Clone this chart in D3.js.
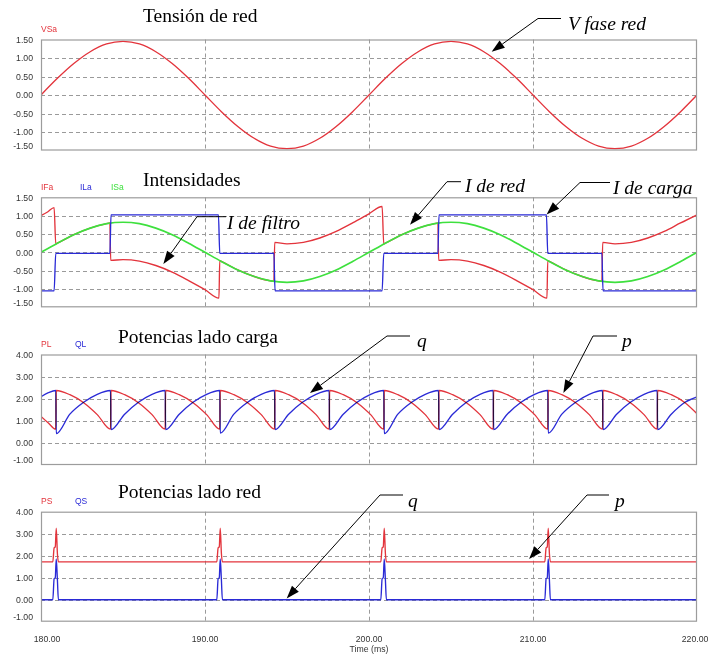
<!DOCTYPE html>
<html>
<head>
<meta charset="utf-8">
<script src="https://cdn.jsdelivr.net/npm/d3@7"></script>
<style>
  html, body { margin: 0; padding: 0; background: #fff; }
  svg { display: block; }
</style>
</head>
<body>
<svg id="chart" width="710" height="654"></svg>
<script>
// ---------- time axis ----------
const timeTicks = [180, 190, 200, 210, 220];
const timeTickLabels = ["180.00", "190.00", "200.00", "210.00", "220.00"];
const timeGrid = [190, 200, 210];

// ---------- panel 1: grid phase voltage (pu) ----------
const vsaT = [180,181,182,183,184,185,186,187,188,189,190,191,192,193,194,195,196,197,198,199,
              200,201,202,203,204,205,206,207,208,209,210,211,212,213,214,215,216,217,218,219,220];
const vsaV = [0,0.45,0.85,1.17,1.38,1.45,1.38,1.17,0.85,0.45,0,-0.45,-0.85,-1.17,-1.38,-1.45,-1.38,-1.17,-0.85,-0.45,
              0,0.45,0.85,1.17,1.38,1.45,1.38,1.17,0.85,0.45,0,-0.45,-0.85,-1.17,-1.38,-1.45,-1.38,-1.17,-0.85,-0.45,0];
const yTicksV = [1.5, 1, 0.5, 0, -0.5, -1, -1.5];
const yLabelsV = ["1.50", "1.00", "0.50", "0.00", "-0.50", "-1.00", "-1.50"];

// ---------- panel 2: currents (pu) ----------
// source current ISa
const isaT = vsaT;
const isaV = [0,0.25,0.48,0.66,0.78,0.82,0.78,0.66,0.48,0.25,0,-0.25,-0.48,-0.66,-0.78,-0.82,-0.78,-0.66,-0.48,-0.25,
              0,0.25,0.48,0.66,0.78,0.82,0.78,0.66,0.48,0.25,0,-0.25,-0.48,-0.66,-0.78,-0.82,-0.78,-0.66,-0.48,-0.25,0];
// load current ILa
const ilaT = [180,180.8,180.9,184.2,184.27,190.82,190.9,194.2,194.27,200.8,200.9,204.2,204.27,210.82,210.9,214.2,214.27,220];
const ilaV = [-1.05,-1.05,-0.03,-0.03,1.02,1.02,-0.03,-0.03,-1.05,-1.05,-0.03,-0.03,1.02,1.02,-0.03,-0.03,-1.05,-1.05];
// filter current IFa
const ifaT = [180,180.4,180.8,180.9,181,182,183,184,184.2,
              184.25,185,186,187,188,189,190,190.85,
              190.9,191,192,193,194,194.2,
              194.25,195,196,197,198,199,200,200.8,
              200.9,201,202,203,204,204.2,
              204.25,205,206,207,208,209,210,210.85,
              210.9,211,212,213,214,214.2,
              214.25,215,216,217,218,219,220];
const ifaV = [1.0,1.1,1.22,0.23,0.25,0.48,0.66,0.78,0.8,
              -0.22,-0.2,-0.24,-0.36,-0.54,-0.77,-1.02,-1.25,
              -0.23,-0.25,-0.48,-0.66,-0.78,-0.79,
              0.27,0.23,0.27,0.39,0.57,0.8,1.05,1.25,
              0.23,0.25,0.48,0.66,0.78,0.8,
              -0.22,-0.2,-0.24,-0.36,-0.54,-0.77,-1.02,-1.25,
              -0.23,-0.25,-0.48,-0.66,-0.78,-0.79,
              0.27,0.23,0.27,0.39,0.57,0.8,1.02];

// ---------- panel 3: load-side powers (pu) ----------
const loadT = [180,180.45,180.9,
  180.93,181.76,182.6,183.43,184.24,
  184.27,185.1,185.94,186.77,187.57,
  187.6,188.43,189.27,190.1,190.9,
  190.93,191.76,192.6,193.43,194.24,
  194.27,195.1,195.94,196.77,197.57,
  197.6,198.43,199.27,200.1,200.9,
  200.93,201.76,202.6,203.43,204.24,
  204.27,205.1,205.94,206.77,207.57,
  207.6,208.43,209.27,210.1,210.9,
  210.93,211.76,212.6,213.43,214.24,
  214.27,215.1,215.94,216.77,217.57,
  217.6,218.43,219.27,220];
const pLV = [1.2,0.9,0.62,
  2.37,2.18,1.82,1.28,0.62,
  2.37,2.18,1.82,1.28,0.62,
  2.37,2.18,1.82,1.28,0.62,
  2.37,2.18,1.82,1.28,0.62,
  2.37,2.18,1.82,1.28,0.62,
  2.37,2.18,1.82,1.28,0.62,
  2.37,2.18,1.82,1.28,0.62,
  2.37,2.18,1.82,1.28,0.62,
  2.37,2.18,1.82,1.28,0.62,
  2.37,2.18,1.82,1.28,0.62,
  2.37,2.18,1.82,1.28,0.62,
  2.37,2.18,1.82,1.32];
const qLV = [2.09,2.27,2.37,
  0.42,1.3,1.84,2.2,2.37,
  0.6,1.3,1.84,2.2,2.37,
  0.6,1.3,1.84,2.2,2.37,
  0.44,1.3,1.84,2.2,2.37,
  0.6,1.3,1.84,2.2,2.37,
  0.6,1.3,1.84,2.2,2.37,
  0.42,1.3,1.84,2.2,2.37,
  0.6,1.3,1.84,2.2,2.37,
  0.6,1.3,1.84,2.2,2.37,
  0.44,1.3,1.84,2.2,2.37,
  0.6,1.3,1.84,2.2,2.37,
  0.6,1.3,1.84,2.08];
const yTicksP = [4, 3, 2, 1, 0, -1];
const yLabelsP = ["4.00", "3.00", "2.00", "1.00", "0.00", "-1.00"];

// ---------- panel 4: grid-side powers (pu) ----------
const srcT = [180,
  180.72,180.8,180.87,180.93,181.0,181.06,
  190.72,190.8,190.87,190.93,191.0,191.06,
  200.72,200.8,200.87,200.93,201.0,201.06,
  210.72,210.8,210.87,210.93,211.0,211.06,
  220];
const pSV = [1.72,
  1.72,2.35,2.4,3.25,2.1,1.72,
  1.72,2.35,2.4,3.25,2.1,1.72,
  1.72,2.35,2.4,3.25,2.1,1.72,
  1.72,2.35,2.4,3.25,2.1,1.72,
  1.72];
const qSV = [0,
  0,0.95,1.0,1.85,0.9,0,
  0,0.95,1.0,1.85,0.9,0,
  0,0.95,1.0,1.85,0.9,0,
  0,0.95,1.0,1.85,0.9,0,
  0];

// ---------- styling ----------
const RED = "#e3343c";
const BLUE = "#2a2ad6";
const GREEN = "#3ee03e";
const GRID = "#9a9a9a";
const FRAME = "#9c9c9c";
const SERIF = "'Liberation Serif', 'Times New Roman', serif";
const SANS = "'Liberation Sans', Arial, sans-serif";

const svg = d3.select("#chart");
const x = d3.scaleLinear().domain([180, 220]).range([41, 697]);

const zip = (t, v) => t.map((ti, i) => [ti, v[i]]);

const panels = [
  {
    domain: [-1.5, 1.5], range: [150.5, 39.5],
    ticks: yTicksV, labels: yLabelsV, grid: [1, 0.5, 0, -0.5, -1],
    title: "Tensión de red", titleX: 143, titleY: 22,
    legendY: 31.5, legend: [{ text: "VSa", color: RED, x: 41 }],
    blend: "normal",
    series: [{ t: vsaT, v: vsaV, color: RED, w: 1.35 }],
    notes: [
      { text: "V fase red", tip: [207.48, 1.17], elbow: [538, 18.5], end: [561, 18.5], label: [568, 30] }
    ]
  },
  {
    domain: [-1.5, 1.5], range: [307.3, 197.3],
    ticks: yTicksV, labels: yLabelsV, grid: [1, 0.5, 0, -0.5, -1],
    title: "Intensidades", titleX: 143, titleY: 186,
    legendY: 190, legend: [{ text: "IFa", color: RED, x: 41 }, { text: "ILa", color: BLUE, x: 80 }, { text: "ISa", color: GREEN, x: 111 }],
    blend: "normal",
    series: [
      { t: ifaT, v: ifaV, color: RED, w: 1.35 },
      { t: isaT, v: isaV, color: GREEN, w: 1.7 },
      { t: ilaT, v: ilaV, color: BLUE, w: 1.35 }
    ],
    notes: [
      { text: "I de filtro", tip: [187.46, -0.32], elbow: [197, 216.7], end: [226, 216.7], label: [227, 229] },
      { text: "I de red", tip: [202.5, 0.75], elbow: [447, 181.7], end: [461, 181.7], label: [465, 192] },
      { text: "I de carga", tip: [210.83, 1.03], elbow: [580, 182.5], end: [610, 182.5], label: [613, 193.5] }
    ]
  },
  {
    domain: [-1, 4], range: [465, 354.5],
    ticks: yTicksP, labels: yLabelsP, grid: [3, 2, 1, 0],
    title: "Potencias lado carga", titleX: 118, titleY: 343,
    legendY: 347, legend: [{ text: "PL", color: RED, x: 41 }, { text: "QL", color: BLUE, x: 75 }],
    blend: "multiply",
    series: [
      { t: loadT, v: pLV, color: RED, w: 1.35 },
      { t: loadT, v: qLV, color: BLUE, w: 1.35 }
    ],
    notes: [
      { text: "q", tip: [196.4, 2.26], elbow: [387, 336], end: [410, 336], label: [417, 347] },
      { text: "p", tip: [211.85, 2.26], elbow: [593, 336], end: [617, 336], label: [622, 347] }
    ]
  },
  {
    domain: [-1, 4], range: [621.7, 511.7],
    ticks: yTicksP, labels: yLabelsP, grid: [3, 2, 1, 0],
    title: "Potencias lado red", titleX: 118, titleY: 497.5,
    legendY: 503.5, legend: [{ text: "PS", color: RED, x: 41 }, { text: "QS", color: BLUE, x: 75 }],
    blend: "multiply",
    series: [
      { t: srcT, v: pSV, color: RED, w: 1.35 },
      { t: srcT, v: qSV, color: BLUE, w: 1.35 }
    ],
    notes: [
      { text: "q", tip: [194.98, 0.06], elbow: [380, 495], end: [403, 495], label: [408, 506.5] },
      { text: "p", tip: [209.76, 1.85], elbow: [587, 495], end: [609, 495], label: [615, 506.5] }
    ],
    timeAxis: true
  }
];

panels.forEach((p, pi) => {
  const y = d3.scaleLinear().domain(p.domain).range(p.range);
  const x0 = x(180), x1 = x(220);
  const top = y(p.domain[1]), bottom = y(p.domain[0]);
  const g = svg.append("g").attr("class", "panel");

  // plot area
  g.append("rect")
    .attr("x", x0).attr("y", top)
    .attr("width", x1 - x0).attr("height", bottom - top)
    .attr("fill", "#fff");

  // dashed grid
  g.append("g").selectAll("line").data(p.grid).join("line")
    .attr("x1", x0).attr("x2", x1)
    .attr("y1", d => Math.round(y(d)) + 0.5).attr("y2", d => Math.round(y(d)) + 0.5)
    .attr("stroke", GRID).attr("stroke-width", 1).attr("stroke-dasharray", "4,3");
  g.append("g").selectAll("line").data(timeGrid).join("line")
    .attr("x1", d => Math.round(x(d)) + 0.5).attr("x2", d => Math.round(x(d)) + 0.5)
    .attr("y1", top).attr("y2", bottom)
    .attr("stroke", GRID).attr("stroke-width", 1).attr("stroke-dasharray", "4,3");

  // clip for traces
  const clipId = "clip" + pi;
  svg.append("clipPath").attr("id", clipId)
    .append("rect").attr("x", x0).attr("y", top - 1)
    .attr("width", x1 - x0).attr("height", bottom - top + 2);

  const line = d3.line()
    .x(d => x(d[0])).y(d => y(d[1]))
    .curve(d3.curveMonotoneX);

  const traces = g.append("g").attr("clip-path", `url(#${clipId})`);
  p.series.forEach(s => {
    traces.append("path")
      .datum(zip(s.t, s.v))
      .attr("d", line)
      .attr("fill", "none")
      .attr("stroke", s.color)
      .attr("stroke-width", s.w)
      .attr("stroke-linejoin", "round")
      .style("mix-blend-mode", p.blend);
  });

  // frame
  g.append("rect")
    .attr("x", x0 + 0.5).attr("y", top + 0.5)
    .attr("width", x1 - x0 - 1).attr("height", bottom - top - 1)
    .attr("fill", "none").attr("stroke", FRAME).attr("stroke-width", 1.2);

  // y axis labels
  const yAxis = d3.axisLeft(y)
    .tickValues(p.ticks)
    .tickFormat((d, i) => p.labels[i])
    .tickSize(0).tickPadding(8);
  const ya = g.append("g").attr("transform", `translate(${x0},0)`).call(yAxis);
  ya.select(".domain").remove();
  ya.selectAll("text")
    .attr("font-family", SANS).attr("font-size", 8.7).attr("fill", "#333")
    .attr("y", d => (d === p.domain[0] ? -5 : 0));

  // title
  g.append("text")
    .attr("x", p.titleX).attr("y", p.titleY)
    .attr("font-family", SERIF).attr("font-size", 19.5).attr("fill", "#000")
    .text(p.title);

  // legend tags
  g.append("g").selectAll("text").data(p.legend).join("text")
    .attr("x", d => d.x).attr("y", p.legendY)
    .attr("font-family", SANS).attr("font-size", 8.5)
    .attr("fill", d => d.color)
    .text(d => d.text);

  // callouts
  p.notes.forEach(n => {
    const tx = x(n.tip[0]), ty = y(n.tip[1]);
    const [ex, ey] = n.elbow;
    const ang = Math.atan2(ty - ey, tx - ex);
    const L = 13, W = 4.6;
    const bx = tx - L * Math.cos(ang), by = ty - L * Math.sin(ang);
    g.append("path")
      .attr("d", `M${n.end[0]},${n.end[1]}L${ex},${ey}L${bx},${by}`)
      .attr("fill", "none").attr("stroke", "#000").attr("stroke-width", 1);
    g.append("path")
      .attr("d", `M${tx},${ty}L${bx + W * Math.sin(ang)},${by - W * Math.cos(ang)}L${bx - W * Math.sin(ang)},${by + W * Math.cos(ang)}Z`)
      .attr("fill", "#000");
    g.append("text")
      .attr("x", n.label[0]).attr("y", n.label[1])
      .attr("font-family", SERIF).attr("font-style", "italic")
      .attr("font-size", 19.5).attr("fill", "#000")
      .text(n.text);
  });

  // time axis under the last panel
  if (p.timeAxis) {
    const xAxis = d3.axisBottom(x)
      .tickValues(timeTicks)
      .tickFormat((d, i) => timeTickLabels[i])
      .tickSize(0).tickPadding(14);
    const xa = g.append("g").attr("transform", `translate(0,${bottom})`).call(xAxis);
    xa.select(".domain").remove();
    xa.selectAll(".tick")
      .attr("transform", d => `translate(${Math.min(695, Math.max(47, x(d)))},0)`);
    xa.selectAll("text")
      .attr("font-family", SANS).attr("font-size", 8.7).attr("fill", "#333");
    g.append("text")
      .attr("x", x(200)).attr("y", 652)
      .attr("text-anchor", "middle")
      .attr("font-family", SANS).attr("font-size", 8.7).attr("fill", "#333")
      .text("Time (ms)");
  }
});
</script>
</body>
</html>
